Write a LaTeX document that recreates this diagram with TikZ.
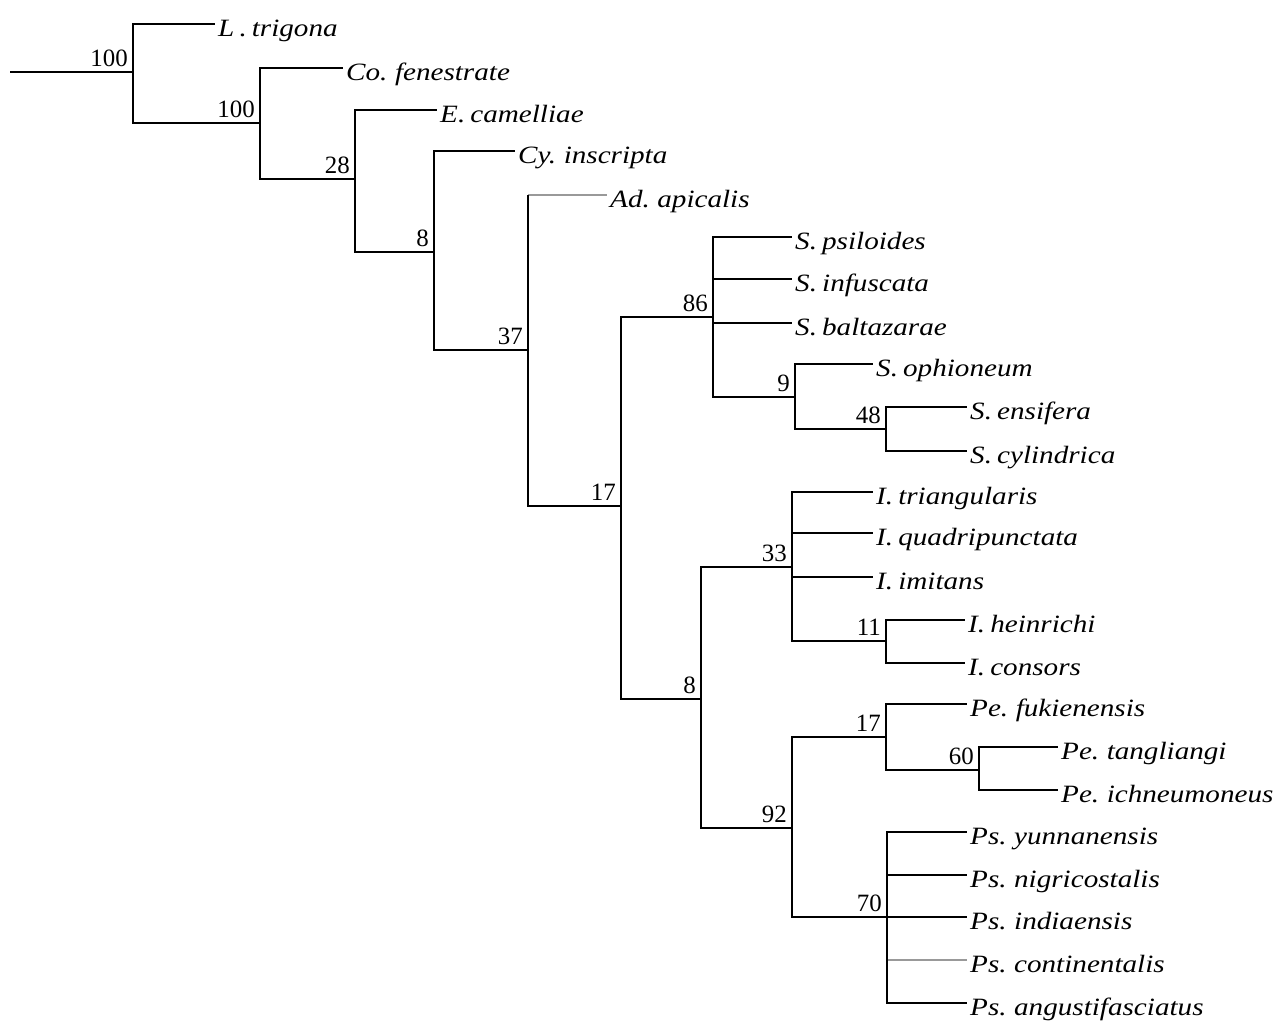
\documentclass[tikz,border=0pt]{standalone}
\usepackage{fontspec}
\setmainfont{Liberation Serif}
\newfontfamily\taxfont[FakeStretch=1.17,WordSpace=0.7]{Liberation Serif}
\begin{document}
\begin{tikzpicture}[
    x=1bp, y=-1bp,
    % Rótulos dos táxons terminais
    taxon/.style={
        anchor=west, inner xsep=3bp, inner ysep=0pt,
        text height=24bp, text depth=0pt,
        font=\taxfont\itshape\fontsize{25}{25}\selectfont
    },
    % Valores de suporte (bootstrap)
    boot/.style={
        anchor=south east, inner xsep=5bp, inner ysep=5bp,
        font=\fontsize{25}{25}\selectfont
    },
    ramo/.style={draw, line width=1.8bp},
    ramofino/.style={draw=gray!80, line width=1.1bp}
]
\useasboundingbox (0,0) rectangle (1285,1034);

% ---- NÓS INTERNOS ----
\coordinate (raiz) at (10,72);
\coordinate (n1)  at (133,72);
\coordinate (n2)  at (260,123);
\coordinate (n3)  at (355,179);
\coordinate (n4)  at (434,252);
\coordinate (n5)  at (528,350);
\coordinate (n6)  at (621,506);
\coordinate (n7)  at (713,317);
\coordinate (n8)  at (795,397);
\coordinate (n9)  at (886,429);
\coordinate (n10) at (701,699);
\coordinate (n11) at (792,567);
\coordinate (n12) at (886,641);
\coordinate (n13) at (792,828);
\coordinate (n14) at (886,737);
\coordinate (n15) at (979,770);
\coordinate (n16) at (887,917);

% ---- TERMINAIS ----
\node[taxon] (t_ltri) at (215,24)  {L . trigona};
\node[taxon] (t_cofe) at (343,68)  {Co. fenestrate};
\node[taxon] (t_ecam) at (437,110) {E. camelliae};
\node[taxon] (t_cyin) at (515,151) {Cy. inscripta};
\node[taxon] (t_adap) at (607,195) {Ad. apicalis};

\node[taxon] (t_spsi) at (792,237) {S. psiloides};
\node[taxon] (t_sinf) at (792,279) {S. infuscata};
\node[taxon] (t_sbal) at (792,323) {S. baltazarae};
\node[taxon] (t_soph) at (873,364) {S. ophioneum};
\node[taxon] (t_sens) at (967,407) {S. ensifera};
\node[taxon] (t_scyl) at (967,451) {S. cylindrica};

\node[taxon] (t_itri) at (873,492) {I. triangularis};
\node[taxon] (t_iqua) at (873,533) {I. quadripunctata};
\node[taxon] (t_iimi) at (873,577) {I. imitans};
\node[taxon] (t_ihei) at (965,620) {I. heinrichi};
\node[taxon] (t_icon) at (965,663) {I. consors};

\node[taxon] (t_pefu) at (967,704)  {Pe. fukienensis};
\node[taxon] (t_peta) at (1058,747) {Pe. tangliangi};
\node[taxon] (t_peic) at (1058,790) {Pe. ichneumoneus};

\node[taxon] (t_psyu) at (967,832)  {Ps. yunnanensis};
\node[taxon] (t_psni) at (967,875)  {Ps. nigricostalis};
\node[taxon] (t_psin) at (967,917)  {Ps. indiaensis};
\node[taxon] (t_psco) at (967,960)  {Ps. continentalis};
\node[taxon] (t_psan) at (967,1003) {Ps. angustifasciatus};

% ---- RAMOS DA ESPINHA ----
\draw[ramo] (raiz) -- (n1);
\draw[ramo] (n1) |- (t_ltri.west);
\draw[ramo] (n1) |- (n2);
\draw[ramo] (n2) |- (t_cofe.west);
\draw[ramo] (n2) |- (n3);
\draw[ramo] (n3) |- (t_ecam.west);
\draw[ramo] (n3) |- (n4);
\draw[ramo] (n4) |- (t_cyin.west);
\draw[ramo] (n4) |- (n5);
\draw[ramofino] (n5 |- t_adap.west) -- (t_adap.west);
\draw[ramo] (n5) -- (n5 |- t_adap.west);
\draw[ramo] (n5) |- (n6);
\draw[ramo] (n6) |- (n7);
\draw[ramo] (n6) |- (n10);

% ---- CLADO S. ----
\draw[ramo] (n7) |- (t_spsi.west);
\draw[ramo] (n7) |- (t_sinf.west);
\draw[ramo] (n7) |- (t_sbal.west);
\draw[ramo] (n7) |- (n8);
\draw[ramo] (n8) |- (t_soph.west);
\draw[ramo] (n8) |- (n9);
\draw[ramo] (n9) |- (t_sens.west);
\draw[ramo] (n9) |- (t_scyl.west);

% ---- CLADO I. ----
\draw[ramo] (n10) |- (n11);
\draw[ramo] (n10) |- (n13);
\draw[ramo] (n11) |- (t_itri.west);
\draw[ramo] (n11) |- (t_iqua.west);
\draw[ramo] (n11) |- (t_iimi.west);
\draw[ramo] (n11) |- (n12);
\draw[ramo] (n12) |- (t_ihei.west);
\draw[ramo] (n12) |- (t_icon.west);

% ---- CLADOS Pe. E Ps. ----
\draw[ramo] (n13) |- (n14);
\draw[ramo] (n13) |- (n16);
\draw[ramo] (n14) |- (t_pefu.west);
\draw[ramo] (n14) |- (n15);
\draw[ramo] (n15) |- (t_peta.west);
\draw[ramo] (n15) |- (t_peic.west);
\draw[ramo] (n16) |- (t_psyu.west);
\draw[ramo] (n16) |- (t_psni.west);
\draw[ramo] (n16) |- (t_psin.west);
\draw[ramofino] (n16) |- (t_psco.west);
\draw[ramo] (n16) |- (t_psan.west);

% ---- SUPORTE ----
\node[boot] (b1)  at (n1)  {100};
\node[boot] (b2)  at (n2)  {100};
\node[boot] (b3)  at (n3)  {28};
\node[boot] (b4)  at (n4)  {8};
\node[boot] (b5)  at (n5)  {37};
\node[boot] (b6)  at (n6)  {17};
\node[boot] (b7)  at (n7)  {86};
\node[boot] (b8)  at (n8)  {9};
\node[boot] (b9)  at (n9)  {48};
\node[boot] (b10) at (n10) {8};
\node[boot] (b11) at (n11) {33};
\node[boot] (b12) at (n12) {11};
\node[boot] (b13) at (n13) {92};
\node[boot] (b14) at (n14) {17};
\node[boot] (b15) at (n15) {60};
\node[boot] (b16) at (n16) {70};

\end{tikzpicture}
\end{document}
